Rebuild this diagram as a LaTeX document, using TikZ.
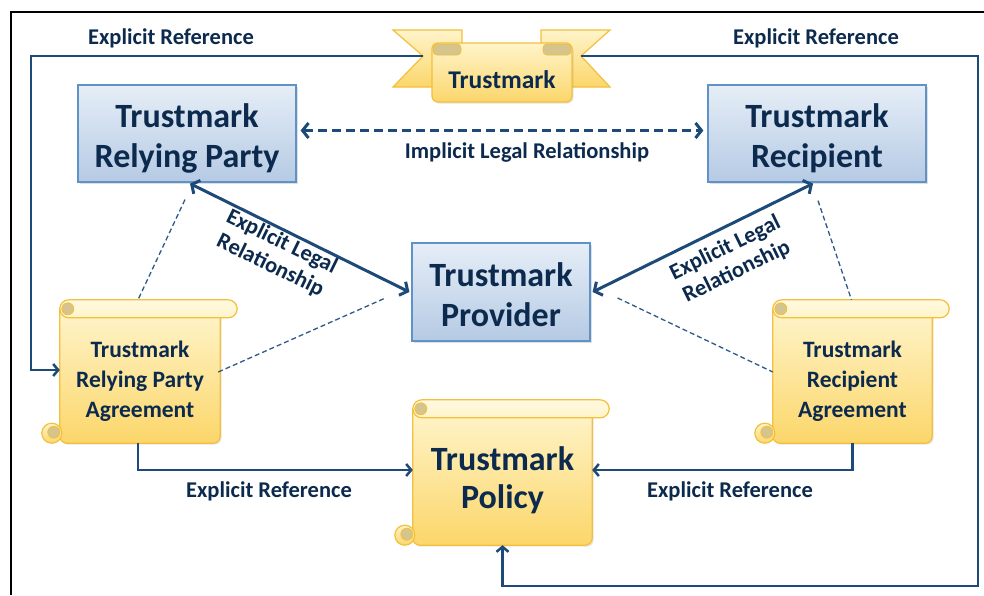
\documentclass[tikz,border=0pt]{standalone}
\usepackage{fontspec}
\setmainfont{Carlito}
\usetikzlibrary{arrows.meta,calc,shadows}
\pgfdeclarelayer{background}
\pgfsetlayers{background,main}
\definecolor{navy}{HTML}{0C2A4D}
\definecolor{lineblue}{HTML}{1E4A7A}
\definecolor{dashblue}{HTML}{2D5A88}
\definecolor{boxtop}{HTML}{E6EEF7}
\definecolor{boxbot}{HTML}{B5CAE4}
\definecolor{boxborder}{HTML}{5F93C8}
\definecolor{scrolltop}{HTML}{FFF4CA}
\definecolor{scrollbot}{HTML}{FBD66A}
\definecolor{scrollborder}{HTML}{F2C03C}
\definecolor{scrolltan}{HTML}{D5C48C}
\newcommand\drawscrollshape[1]{%
 \path[scrollface, drop shadow={opacity=0.2,shadow xshift=1.5pt,shadow yshift=-1.5pt}] (#1.north west) -- (#1.north east) [rounded corners=7pt] -- (#1.south east) -- (#1.south west) [sharp corners] -- cycle;
 \path[scrollface] ($(#1.south west)+(-8,-10)$) circle[radius=10pt];
 \path[tanfill] ($(#1.south west)+(-6,-11)$) circle[radius=6pt];
 \path[scrollroll, rounded corners=9pt] ($(#1.north west)+(0,-9)$) rectangle ($(#1.north east)+(17,9)$);
 \path[tanfill] ($(#1.north west)+(8,0)$) circle[radius=6pt];
}
\newcommand\upstrut[1]{\rule{0pt}{#1}}
\begin{document}
\begin{tikzpicture}[x=1pt,y=-1pt,
  bluebox/.style={draw=boxborder, line width=1.2pt, top color=boxtop, bottom color=boxbot,
    align=center, text=navy, font=\fontsize{34}{40}\selectfont\bfseries,
    drop shadow={opacity=0.25,shadow xshift=2pt,shadow yshift=-2pt}},
  scrolltext/.style={align=center, text=navy, inner sep=0pt},
  scrollface/.style={draw=scrollborder, line width=1.2pt, top color=scrolltop, bottom color=scrollbot},
  scrollroll/.style={draw=scrollborder, line width=1.2pt, top color=scrolltop!60!white, bottom color=scrolltop},
  tanfill/.style={draw=scrollborder, line width=0.8pt, fill=scrolltan},
  lbl/.style={font=\fontsize{22.5}{24}\selectfont\bfseries, text=navy, inner sep=0pt, align=center},
  rotlbl/.style={lbl, font=\fontsize{22.5}{26}\selectfont\bfseries},
  conn/.style={draw=lineblue, line width=2.5pt},
  bigarrow/.style={draw=lineblue, line width=3pt, {Straight Barb[length=6pt,width=15pt]}-{Straight Barb[length=6pt,width=15pt]}},
  smalltip/.style={-{Straight Barb[length=5pt,width=12pt]}},
  thindash/.style={draw=dashblue, line width=1.3pt, dash pattern=on 5pt off 3pt}
]
\useasboundingbox (0,0) rectangle (984,595);
% outer frame
\draw[black, line width=2pt] (11,595) -- (11,12) -- (984,12);

% blue boxes
\node[bluebox, minimum width=218pt, minimum height=97pt] (rp) at (187,133.5) {\upstrut{34pt}Trustmark\\Relying Party};
\node[bluebox, minimum width=218pt, minimum height=97pt] (rc) at (817,133.5) {\upstrut{34pt}Trustmark\\Recipient};
\node[bluebox, minimum width=178pt, minimum height=98pt] (prov) at (501,292) {\upstrut{30pt}Trustmark\\Provider};

% scroll bodies (text)
\node[scrolltext, minimum width=160pt, minimum height=134pt, font=\fontsize{23.5}{30}\selectfont\bfseries] (rpa) at (140,376) {\upstrut{27pt}Trustmark\\Relying Party\\Agreement};
\node[scrolltext, minimum width=159pt, minimum height=134pt, font=\fontsize{23.5}{30}\selectfont\bfseries] (rca) at (852.5,376) {\upstrut{27pt}Trustmark\\Recipient\\Agreement};
\node[scrolltext, minimum width=179pt, minimum height=136pt, font=\fontsize{34}{38}\selectfont\bfseries] (pol) at (502.5,477) {\upstrut{30pt}Trustmark\\Policy};

% banner text
\node[scrolltext, font=\fontsize{25.5}{27}\selectfont\bfseries] (tm) at (502,80) {Trustmark};
\coordinate (tmL) at (423,56);
\coordinate (tmR) at (581,56);
\coordinate (cornerR) at (978,56);
\coordinate (cornerRB) at (978,586);
\coordinate (cornerL) at (31,56);

\begin{pgfonlayer}{background}
 \fill[white] (0,0) rectangle (984,595);
 \drawscrollshape{rpa}
 \drawscrollshape{rca}
 \drawscrollshape{pol}
 % banner
 \path[scrollface] (393,30) -- (462,30) -- (462,87) -- (393,87) -- (tmL) -- cycle;
 \path[scrollface] (610,30) -- (541,30) -- (541,87) -- (610,87) -- (tmR) -- cycle;
 \path[scrollface, rounded corners=6pt, drop shadow={opacity=0.2,shadow xshift=1.5pt,shadow yshift=-1.5pt}] (432,43) rectangle (572,102);
 \path[tanfill, rounded corners=4pt] (433,44) rectangle (461,55);
 \path[tanfill, rounded corners=4pt] (543,44) rectangle (571,55);
\end{pgfonlayer}

% outer reference loops
\draw[conn, smalltip] (tmL) -- (cornerL) |- ($(rpa.west)+(0,-6)$);
\draw[conn, smalltip] (tmR) -- (cornerR) -- (cornerRB) -| (pol.south);
\node[lbl] (er1) at (171,38) {Explicit Reference};
\node[lbl] (er2) at (816,38) {Explicit Reference};

% agreements to policy
\draw[conn, smalltip] ($(rpa.south)+(-2,0)$) |- ($(pol.west)+(0,-7)$);
\draw[conn, smalltip] (rca.south) |- ($(pol.east)+(0,-7)$);
\node[lbl] (er3) at (269,491) {Explicit Reference};
\node[lbl] (er4) at (730,491) {Explicit Reference};

% implicit legal relationship
\draw[bigarrow, dash pattern=on 9pt off 5pt] ($(rp.east)+(4,-3)$) -- ($(rc.west)+(-4,-3)$);
\node[lbl] (impl) at (527,152) {Implicit Legal Relationship};

% explicit legal relationships
\draw[bigarrow] ($(rp.south)+(3,1)$) -- ($(prov.west)+(-2,0)$);
\draw[bigarrow] ($(rc.south)+(-4,1)$) -- ($(prov.east)+(2,0)$);
\node[rotlbl, rotate=-26] (el1) at (276,254) {Explicit Legal\\Relationship};
\node[rotlbl, rotate=26] (el2) at (731,260) {Explicit Legal\\Relationship};

% thin dashed links
\draw[thindash] ($(rp.south)+(-2,17)$) -- ($(rpa.north)+(-2,-9)$);
\draw[thindash] ($(rpa.east)+(-2,-4)$) -- ($(prov.west)+(-26,6)$);
\draw[thindash] ($(rc.south)+(1,18)$) -- ($(rca.north)+(-1,-9)$);
\draw[thindash] ($(prov.east)+(27,6)$) -- ($(rca.west)+(0,-4)$);
\end{tikzpicture}
\end{document}
